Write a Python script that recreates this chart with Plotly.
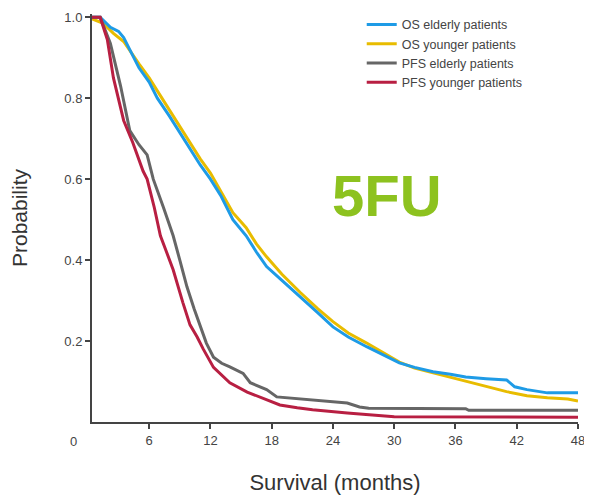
import plotly.graph_objects as go

# ---- data ----
os_elderly_t = [0, 1.2, 2.2, 3.0, 3.5, 5.0, 6.0, 6.8, 8.0, 9.0, 10.0, 11.0, 12.0, 13.0, 14.2, 15.5,
                16.5, 17.5, 19.0, 20.8, 22.5, 24.0, 25.5, 27.3, 29.0, 30.5, 32.0, 33.8, 35.5, 37.0,
                39.0, 41.0, 41.8, 43.0, 45.0, 48.0]
os_elderly_p = [1.0, 1.0, 0.975, 0.965, 0.95, 0.875, 0.84, 0.80, 0.755, 0.715, 0.677, 0.635, 0.60,
                0.56, 0.50, 0.46, 0.42, 0.384, 0.35, 0.31, 0.27, 0.235, 0.21, 0.186, 0.165, 0.146,
                0.135, 0.124, 0.118, 0.111, 0.107, 0.104, 0.087, 0.08, 0.072, 0.072]

os_younger_t = [0, 1.5, 2.5, 3.5, 5.0, 6.0, 7.0, 8.0, 9.0, 10.0, 11.0, 12.0, 13.0, 14.2, 15.5, 16.5,
                17.5, 19.0, 20.8, 22.5, 24.0, 25.5, 27.3, 29.0, 30.5, 32.0, 33.8, 35.5, 37.0, 39.0,
                41.0, 43.0, 45.0, 47.0, 48.0]
os_younger_p = [1.0, 0.985, 0.96, 0.94, 0.885, 0.85, 0.81, 0.77, 0.73, 0.69, 0.65, 0.615, 0.57,
                0.517, 0.48, 0.44, 0.408, 0.365, 0.32, 0.28, 0.248, 0.22, 0.195, 0.17, 0.148, 0.133,
                0.121, 0.11, 0.10, 0.088, 0.075, 0.065, 0.06, 0.057, 0.052]

pfs_elderly_t = [0, 1.2, 2.2, 3.2, 4.1, 5.0, 5.8, 6.4, 7.4, 8.35, 9.0, 9.7, 10.4, 11.0, 11.6, 12.3,
                 13.1, 13.9, 15.2, 15.9, 17.5, 18.5, 20.5, 23.7, 25.4, 26.6, 27.5, 37.0, 37.3, 48.0]
pfs_elderly_p = [1.0, 1.0, 0.935, 0.83, 0.72, 0.685, 0.66, 0.60, 0.53, 0.46, 0.40, 0.334, 0.28,
                 0.235, 0.195, 0.16, 0.145, 0.136, 0.12, 0.097, 0.08, 0.062, 0.058, 0.05, 0.047,
                 0.037, 0.034, 0.033, 0.029, 0.029]

pfs_younger_t = [0, 1.2, 1.9, 2.5, 3.5, 4.4, 5.4, 5.8, 6.5, 7.1, 7.7, 8.35, 9.3, 10.0, 10.7, 11.3,
                 12.3, 13.9, 15.6, 17.2, 18.8, 20.5, 22.0, 25.4, 28.6, 30.0, 48.0]
pfs_younger_p = [1.0, 1.0, 0.945, 0.85, 0.745, 0.69, 0.62, 0.60, 0.53, 0.46, 0.42, 0.376, 0.295,
                 0.24, 0.21, 0.18, 0.135, 0.097, 0.074, 0.058, 0.042, 0.035, 0.03, 0.022, 0.017,
                 0.013, 0.012]

x_ticks = [6, 12, 18, 24, 30, 36, 42, 48]
y_ticks = [0.2, 0.4, 0.6, 0.8, 1.0]
y_tick_labels = ["0.2", "0.4", "0.6", "0.8", "1.0"]

series = [
    ("OS younger patients", os_younger_t, os_younger_p, "#e8bc00", 2),
    ("OS elderly patients", os_elderly_t, os_elderly_p, "#1e9be6", 1),
    ("PFS elderly patients", pfs_elderly_t, pfs_elderly_p, "#666666", 3),
    ("PFS younger patients", pfs_younger_t, pfs_younger_p, "#b81f42", 4),
]

fig = go.Figure()
for name, t, p, color, rank in series:
    fig.add_trace(go.Scatter(x=t, y=p, mode="lines", name=name, legendrank=rank,
                             line=dict(color=color, width=3)))

tick_font = dict(family="Liberation Sans, Arial, sans-serif", size=13, color="#444444")

# the page body adds an 8 px offset, so margins are set 8 px smaller on top/left
fig.update_layout(
    width=592, height=497,
    margin=dict(l=84, r=22, t=6, b=83, autoexpand=False),
    paper_bgcolor="white", plot_bgcolor="white",
    showlegend=True,
    legend=dict(x=0.555, y=1.01, xanchor="left", yanchor="top",
                bgcolor="rgba(0,0,0,0)", borderwidth=0,
                font=dict(family="Liberation Sans, Arial, sans-serif", size=12.5, color="#444444"),
                tracegroupgap=0, itemwidth=30),
    xaxis=dict(range=[0.4, 48], showgrid=False, zeroline=False, automargin=False,
               showline=True, linecolor="#444444", linewidth=2,
               ticks="outside", ticklen=5, tickwidth=1.5, tickcolor="#444444",
               tickvals=x_ticks, tickfont=tick_font,
               title=dict(text="Survival (months)", standoff=28,
                          font=dict(family="Liberation Sans, Arial", size=22,
                                    color="#333333"))),
    yaxis=dict(range=[0, 1.008], showgrid=False, zeroline=False, automargin=False,
               showline=True, linecolor="#444444", linewidth=2,
               ticks="outside", ticklen=5, tickwidth=1.5, tickcolor="#444444",
               tickvals=y_ticks, ticktext=y_tick_labels, tickfont=tick_font,
               title=dict(text="Probability", standoff=32,
                          font=dict(family="Liberation Sans, Arial", size=21,
                                    color="#333333"))),
    annotations=[
        dict(text="0", xref="paper", yref="paper", x=-0.039, y=-0.049,
             xanchor="center", yanchor="middle", showarrow=False, font=tick_font),
        dict(text="<b>5FU</b>", xref="paper", yref="paper", x=0.607, y=0.556,
             xanchor="center", yanchor="middle", showarrow=False,
             font=dict(family="Liberation Sans, Arial, sans-serif", size=58, color="#8dc21f")),
    ],
)

fig.write_html("out.html")
